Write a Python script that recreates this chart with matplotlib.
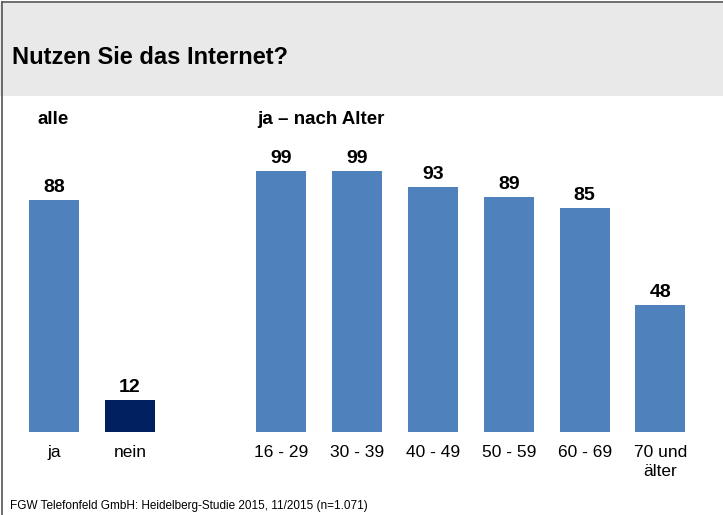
import matplotlib
matplotlib.use("Agg")
import matplotlib.pyplot as plt
from matplotlib.patches import Rectangle
from matplotlib.lines import Line2D

plt.rcParams['font.family'] = ['Liberation Sans', 'DejaVu Sans']

# Data
all_labels = ["ja", "nein"]
all_values = [88, 12]
age_labels = ["16 - 29", "30 - 39", "40 - 49", "50 - 59", "60 - 69", "70 und\nälter"]
age_values = [99, 99, 93, 89, 85, 48]

W, H = 723, 515
fig = plt.figure(figsize=(W/100, H/100), dpi=100)
fig.patch.set_facecolor("white")

# Header band
fig.patches.append(Rectangle((0, 1 - 96/H), 1, 93/H, transform=fig.transFigure,
                             facecolor="#e9e9e9", edgecolor="none", zorder=0))
# borders
fig.lines.append(Line2D([1.5/W, 1.5/W], [0, 1 - 1.5/H], transform=fig.transFigure, color="#555555", lw=1.2))
fig.lines.append(Line2D([1.5/W, 1], [1 - 1.5/H, 1 - 1.5/H], transform=fig.transFigure, color="#555555", lw=1.2))

fig.text(12/W, 1 - 57/H, "Nutzen Sie das Internet?", fontsize=17, fontweight="bold",
         va="center", ha="left")

unit = 75.8
left_px = 54 - 0.5 * unit
right_px = 54 + 8 * unit + 0.5 * unit
base_px = 432
top_px = base_px - 100 * 2.636
ax = fig.add_axes([left_px / W, (H - base_px) / H, (right_px - left_px) / W, (base_px - top_px) / H])
ax.set_xlim(-0.5, 8.5)
ax.set_ylim(0, 100)
ax.axis("off")

bw = 50 / unit
xs_all = [0, 1]
xs_age = [3, 4, 5, 6, 7, 8]
cols_all = ["#4f81bd", "#002060"]
ax.bar(xs_all, all_values, width=bw, color=cols_all)
ax.bar(xs_age, age_values, width=bw, color="#4f81bd")

for x, v in list(zip(xs_all, all_values)) + list(zip(xs_age, age_values)):
    ax.annotate(str(v), (x, v), xytext=(0, 3), textcoords="offset points",
                ha="center", va="bottom", fontsize=14, fontweight="bold")

for x, l in list(zip(xs_all, all_labels)) + list(zip(xs_age, age_labels)):
    ax.annotate(l, (x, 0), xytext=(0, -9.5), textcoords="offset points",
                ha="center", va="top", fontsize=12.5, linespacing=1.3)

fig.text(37/W, 1 - 120/H, "alle", fontsize=13.5, fontweight="bold", va="center", ha="left")
fig.text(257/W, 1 - 120/H, "ja – nach Alter", fontsize=13.5, fontweight="bold", va="center", ha="left")

fig.text(10/W, 1 - 506/H, "FGW Telefonfeld GmbH: Heidelberg-Studie 2015, 11/2015 (n=1.071)",
         fontsize=8.5, va="center", ha="left")

fig.savefig("out.png", dpi=100)
